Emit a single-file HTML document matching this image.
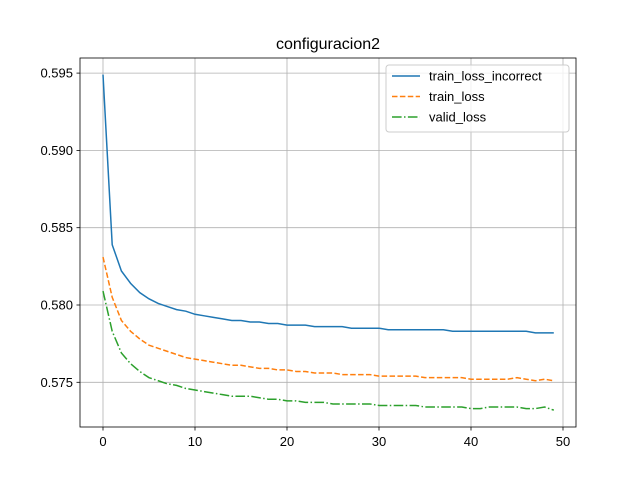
<!DOCTYPE html>
<html><head><meta charset="utf-8"><style>
body{margin:0;background:#fff;}
svg{font-family:"Liberation Sans","DejaVu Sans",sans-serif;}
</style></head><body>
<svg id="chart" width="640" height="480"></svg>
<script>
const xTicks=[0,10,20,30,40,50];
const yTicks=[0.575,0.580,0.585,0.590,0.595];
const yTickLabels=["0.575","0.580","0.585","0.590","0.595"];
const trainLossIncorrect=[0.5949,0.5839,0.5822,0.5814,0.5808,0.5804,0.5801,0.5799,0.5797,0.5796,0.5794,0.5793,0.5792,0.5791,0.5790,0.5790,0.5789,0.5789,0.5788,0.5788,0.5787,0.5787,0.5787,0.5786,0.5786,0.5786,0.5786,0.5785,0.5785,0.5785,0.5785,0.5784,0.5784,0.5784,0.5784,0.5784,0.5784,0.5784,0.5783,0.5783,0.5783,0.5783,0.5783,0.5783,0.5783,0.5783,0.5783,0.5782,0.5782,0.5782];
const trainLoss=[0.5831,0.5805,0.5790,0.5783,0.5778,0.5774,0.5772,0.5770,0.5768,0.5766,0.5765,0.5764,0.5763,0.5762,0.5761,0.5761,0.5760,0.5759,0.5759,0.5758,0.5758,0.5757,0.5757,0.5756,0.5756,0.5756,0.5755,0.5755,0.5755,0.5755,0.5754,0.5754,0.5754,0.5754,0.5754,0.5753,0.5753,0.5753,0.5753,0.5753,0.5752,0.5752,0.5752,0.5752,0.5752,0.5753,0.5752,0.5751,0.5752,0.5751];
const validLoss=[0.5809,0.5783,0.5769,0.5762,0.5757,0.5753,0.5751,0.5749,0.5748,0.5746,0.5745,0.5744,0.5743,0.5742,0.5741,0.5741,0.5741,0.5740,0.5739,0.5739,0.5738,0.5738,0.5737,0.5737,0.5737,0.5736,0.5736,0.5736,0.5736,0.5736,0.5735,0.5735,0.5735,0.5735,0.5735,0.5734,0.5734,0.5734,0.5734,0.5734,0.5733,0.5733,0.5734,0.5734,0.5734,0.5734,0.5733,0.5733,0.5734,0.5732];
const L=80,R=576,T=58,B=427;
const sx=v=>103+v*9.2;
const sy=v=>305-(v-0.580)/0.005*77.3;
const svg=document.getElementById('chart');
const NS='http://www.w3.org/2000/svg';
function mk(tag,a,parent){const e=document.createElementNS(NS,tag);for(const k in a)e.setAttribute(k,a[k]);(parent||svg).appendChild(e);return e;}
const grid=mk('g',{});


xTicks.forEach(t=>{
  mk('line',{x1:sx(t),x2:sx(t),y1:T,y2:B,stroke:'#b0b0b0','stroke-width':0.8},grid);
  mk('line',{x1:sx(t),x2:sx(t),y1:B,y2:B+3.5,stroke:'#000','stroke-width':0.8});
  const tx=mk('text',{x:sx(t),y:B+19,'text-anchor':'middle','font-size':13,fill:'#000'});
  
  
  tx.textContent=t;
});
yTicks.forEach((t,i)=>{
  mk('line',{x1:L,x2:R,y1:sy(t),y2:sy(t),stroke:'#b0b0b0','stroke-width':0.8},grid);
  mk('line',{x1:L-3.5,x2:L,y1:sy(t),y2:sy(t),stroke:'#000','stroke-width':0.8});
  const tx=mk('text',{x:L-7,y:sy(t)+4.5,'text-anchor':'end','font-size':13,fill:'#000'});
  
  
  tx.textContent=yTickLabels[i];
});
function line(data,color,dash,name){
  const p=mk('polyline',{points:data.map((v,i)=>sx(i)+','+sy(v)).join(' '),fill:'none',stroke:color,'stroke-width':1.5,'stroke-dasharray':dash});
  
  
}
line(trainLossIncorrect,'#1f77b4','none','train-loss-incorrect-line');
line(trainLoss,'#ff7f0e','5.5,2.4','train-loss-line');
line(validLoss,'#2ca02c','9.6,2.4,1.5,2.4','valid-loss-line');
const frame=mk('rect',{x:L,y:T,width:R-L,height:B-T,fill:'none',stroke:'#000','stroke-width':0.8});


const title=mk('text',{x:(L+R)/2,y:T-9,'text-anchor':'middle','font-size':16,fill:'#000'});


title.textContent='configuracion2';
const lg=mk('g',{});


mk('rect',{x:386,y:65,width:183,height:67,rx:3,fill:'#fff','fill-opacity':0.8,stroke:'#ccc','stroke-width':1},lg);
[['train_loss_incorrect','#1f77b4','none'],['train_loss','#ff7f0e','5.5,2.4'],['valid_loss','#2ca02c','9.6,2.4,1.5,2.4']].forEach((e,i)=>{
  const y=76+i*20.5;
  mk('line',{x1:392,x2:420,y1:y,y2:y,stroke:e[1],'stroke-width':1.5,'stroke-dasharray':e[2]},lg);
  const t=mk('text',{x:429,y:y+4.5,'font-size':13,fill:'#000'},lg);
  
  
  t.textContent=e[0];
});
</script>
</body></html>
